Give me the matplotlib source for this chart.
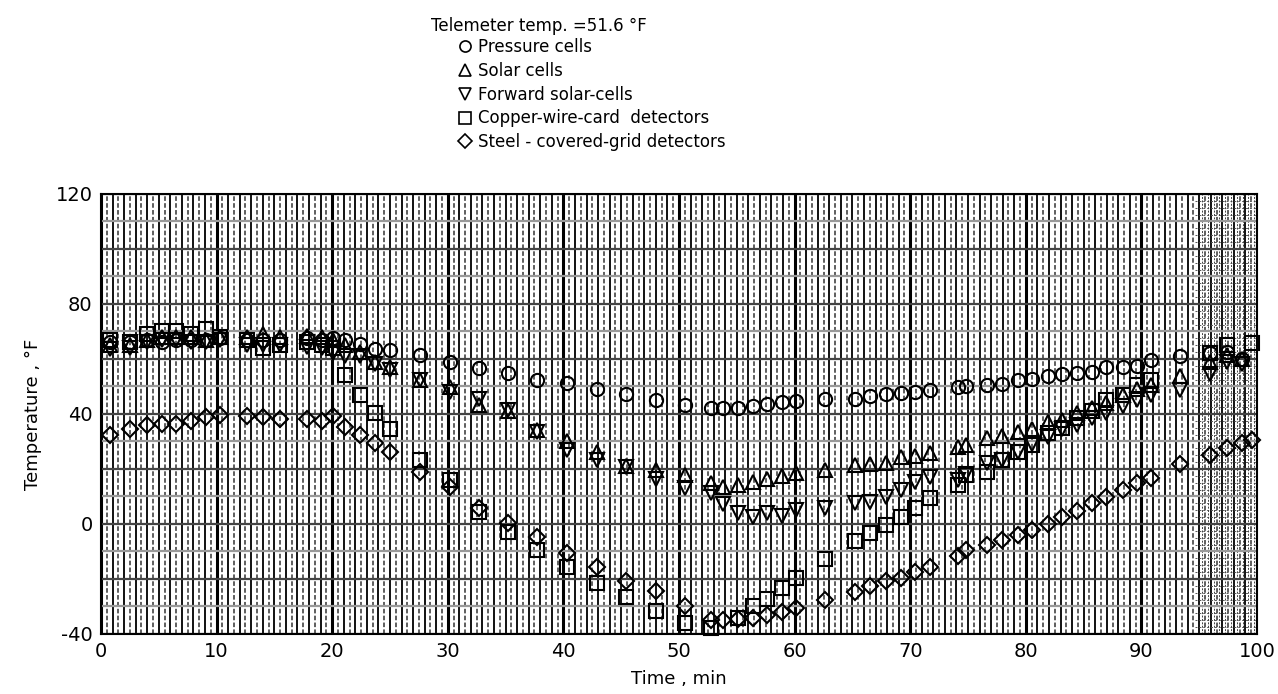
import numpy as np
import matplotlib
matplotlib.use("Agg")
import matplotlib.pyplot as plt
from matplotlib.lines import Line2D

# sample times, min
time_min = [0.8, 2.5, 4.0, 5.3, 6.5, 7.8, 9.1, 10.3, 12.6, 14.0, 15.5, 17.8, 19.1, 20.1,
            21.1, 22.4, 23.7, 25.0, 27.6, 30.2, 32.7, 35.2, 37.7, 40.3, 42.9, 45.4, 48.0,
            50.5, 52.8, 53.8, 55.1, 56.4, 57.6, 58.9, 60.1, 62.6, 65.2, 66.5, 67.9, 69.2,
            70.4, 71.7, 74.1, 74.8, 76.6, 77.9, 79.3, 80.5, 81.9, 83.1, 84.4, 85.7, 86.9,
            88.4, 89.6, 90.8, 93.3, 95.9, 97.4, 98.7, 99.6]

pressure = [66, 66, 66.8, 66.2, 67, 67, 67, 67.5, 67, 67, 67, 67.5, 67, 67.5,
            66.8, 65.6, 63.7, 63.1, 61.3, 58.9, 56.7, 55.0, 52.5, 51.3, 49.2, 47.2, 45.0,
            43.4, 42.0, 42.0, 42.3, 42.8, 43.5, 44.4, 44.7, 45.4, 45.6, 46.4, 47.2, 47.8,
            48.0, 48.6, 49.8, 50.1, 50.4, 50.8, 52.3, 52.6, 53.7, 54.4, 54.9, 55.3, 56.9,
            56.9, 57.5, 59.5, 61.0, 62.0, 62.5, 60.0, None]

solar = [65, 65, 67, 68, 68, 68, 67, 68, 68, 69, 68, 68.5, 68, 67,
         65, 62.5, 59, 57, 52.3, 49.8, 43.2, 41, 34, 30, 26.2, 21.2, 19.6,
         17.8, 14.8, 13.5, 14.2, 15.4, 16.2, 17.4, 18.4, 19.6, 21.4, 21.8, 22.2, 24.2,
         24.7, 25.9, 28.0, 28.7, 31.1, 31.9, 33.5, 34.4, 37.1, 37.7, 40.2, 42.0, 44.0,
         46.8, 49.2, 50.4, 53.7, 58.9, 61.3, 60, None]

forward = [63.8, 64, 66, 67, 67, 66, 66, 67, 65, 65, 65, 64.5, 64, 62,
           61, 61, 58, 56, 52.5, 48.0, 45.6, 41.4, 33.5, 27.0, 23.2, 20.8, 16.2,
           13.0, 11.1, 7.3, 3.9, 2.7, 3.9, 3.0, 5.1, 5.7, 7.7, 8.1, 9.9, 12.3,
           15.4, 17.2, 16.0, 18.1, 22.0, 23.2, 26.2, 29.0, 31.7, 34.7, 35.9, 38.4, 40.4,
           42.8, 45.0, 46.8, 48.6, 54.7, 58.9, 58, None]

copper = [66.8, 66, 69, 70, 70, 69, 71, 68, 67, 64, 65, 66, 65, 64,
          54.1, 46.8, 40.4, 34.4, 23.2, 16.0, 4.5, -2.8, -9.4, -15.5, -21.5, -26.4, -31.8,
          -36.0, -38, None, -34.2, -30, -27.3, -23.3, -19.7, -12.8, -6.1, -3.2, -0.4, 2.7,
          5.9, 9.3, 14.2, 17.8, 19.0, 23.2, 26.2, 28.7, 32.9, 35, 38.4, 41, 45.0,
          47, 50.4, 52.3, None, 62, 65.0, None, 65.8]

steel = [32.3, 34.7, 35.9, 36.5, 36.5, 37.4, 38.9, 39.5, 39.2, 38.9, 38.3, 38.3, 37.5, 39.2,
         35.3, 32.3, 29.3, 26, 19.0, 13.5, 5.7, 0.2, -4.6, -10.6, -15.5, -20.6, -24.5,
         -29.8, -34.8, -34.8, -34.5, -34.2, -33.0, -32.1, -30.6, -27.8, -24.6, -22.7, -20.7, -19.5,
         -17.3, -15.7, -11.5, -9.4, -7.6, -5.8, -4.0, -2.2, 0, 2.7, 4.8, 7.5, 9.9,
         12.3, 14.8, 16.6, 21.7, 25.0, 27.7, 29.3, 30.5]

labels = ["Pressure cells", "Solar cells", "Forward solar-cells",
          "Copper-wire-card  detectors", "Steel - covered-grid detectors"]
markers = ["o", "^", "v", "s", "D"]

plt.rcParams['font.family'] = ['DejaVu Sans']
plt.rcParams['axes.unicode_minus'] = False

fig = plt.figure(figsize=(12.78, 6.94), dpi=100)
ax = fig.add_axes([0.079, 0.0865, 0.9046, 0.634])
ax.set_xlim(0, 100)
ax.set_ylim(-40, 120)

# graph paper
for v in np.arange(0, 100.01, 0.5):
    if abs(v % 10) < 1e-6:
        ax.axvline(v, color="black", lw=2.2, zorder=1)
    elif abs(v % 1) < 1e-6:
        ax.axvline(v, color="#111111", lw=1.4, zorder=1)
    else:
        ax.axvline(v, color="#333333", lw=1.1, ls=(0, (3, 1.5)), zorder=1)
for h in np.arange(-40, 121, 10):
    c = "#444444" if h % 20 == 0 else "#999999"
    ax.axhline(h, color=c, lw=1.6, zorder=1.5)
# cross-hatched strip at right edge
for h in np.arange(-40, 120, 2.5):
    ax.plot([94.6, 100], [h, h], color="#555555", lw=0.7, ls=(0, (2, 2)), zorder=1.2)
for v in np.arange(95.25, 100, 0.5):
    ax.axvline(v, color="#444444", lw=0.7, ls=(0, (2, 1.5)), zorder=1.2)

t = np.array(time_min)
series = [pressure, solar, forward, copper, steel]
for vals, m in zip(series, markers):
    y = np.array([np.nan if v is None else v for v in vals], dtype=float)
    ms = 9.5 if m != "D" else 8
    ax.plot(t, y, ls="none", marker=m, ms=ms, mfc="none", mec="black",
            mew=1.5, zorder=3, clip_on=False)

for s in ax.spines.values():
    s.set_linewidth(1.5)
ax.set_xticks(np.arange(0, 101, 10))
ax.set_yticks([-40, 0, 40, 80, 120])
ax.tick_params(length=0, labelsize=14, pad=6)
ax.set_xlabel("Time , min", fontsize=13, labelpad=6)
ax.set_ylabel("Temperature , °F", fontsize=13, labelpad=10)

fig.text(0.337, 0.975, "Telemeter temp. =51.6 °F", fontsize=12, va="top")
handles = [Line2D([], [], ls="none", marker=m, ms=(8 if m != "D" else 7), mfc="none",
                  mec="black", mew=1.2) for m in markers]
fig.legend(handles, labels, loc="upper left", bbox_to_anchor=(0.352, 0.955),
           frameon=False, fontsize=12, handletextpad=0.3, labelspacing=0.35,
           handlelength=1.0, borderaxespad=0)

fig.savefig("out.png", dpi=100)
